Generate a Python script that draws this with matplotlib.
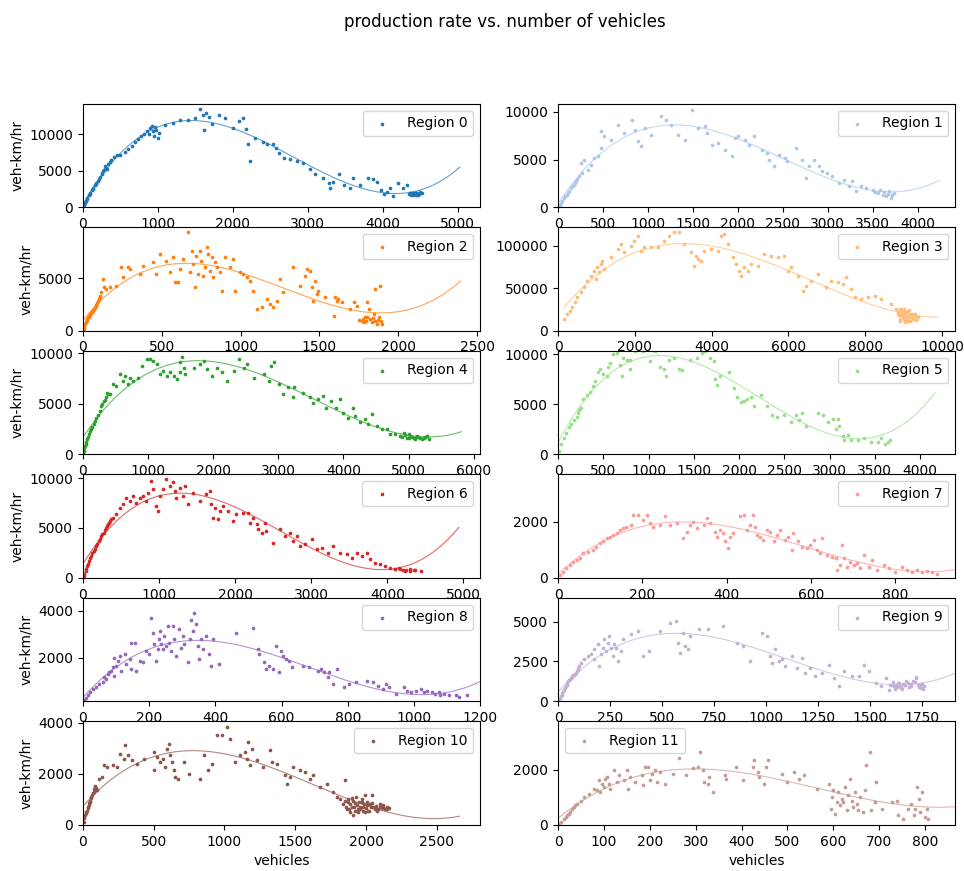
import numpy as np
import matplotlib.pyplot as plt

# (vehicles, veh-km/hr) samples per region
region_0 = [(10, 300), (15, 450), (25, 600), (40, 900), (50, 1100), (60, 1300), (80, 1700), (90, 1850), (100, 2000),
            (120, 2400), (130, 2550), (140, 2700), (160, 3000), (170, 3150), (180, 3300), (200, 3600), (210, 3900),
            (230, 4200), (250, 4500), (260, 4700), (270, 5000), (280, 5100), (290, 5300), (300, 5600), (310, 5400),
            (320, 5200), (340, 5900), (360, 6200), (380, 6500), (420, 6900), (460, 7100), (500, 7200), (560, 7600),
            (600, 8000), (650, 8400), (700, 8900), (740, 9300), (780, 9700), (820, 10000), (850, 10400), (880, 10000),
            (900, 10800), (920, 11200), (940, 10400), (950, 9800), (960, 11000), (980, 10600), (1000, 9500),
            (1010, 10200), (1100, 11300), (1200, 11600), (1300, 11900), (1400, 12000), (1500, 12200), (1560, 13400),
            (1600, 12700), (1640, 12900), (1680, 12400), (1620, 10600), (1720, 11400), (1820, 12700), (1900, 12300),
            (2000, 10900), (2080, 11800), (2140, 12300), (2180, 10700), (2200, 8600), (2230, 6400), (2300, 9500),
            (2400, 9000), (2450, 8600), (2540, 8700), (2580, 8100), (2620, 7400), (2680, 6700), (2760, 6600),
            (2850, 6400), (2940, 6100), (3030, 5200), (3100, 4600), (3200, 4000), (3280, 3300), (3300, 2600),
            (3340, 3500), (3420, 4600), (3480, 3100), (3560, 2700), (3600, 4000), (3700, 3100), (3800, 4000),
            (3870, 3800), (3920, 3500), (3980, 2300), (4020, 1800), (4060, 2100), (4100, 2700), (4140, 1600),
            (4200, 3300), (4270, 2600), (4320, 3100), (4350, 1800), (4360, 1900), (4380, 1700), (4390, 1900),
            (4400, 2000), (4410, 1700), (4420, 1800), (4430, 2000), (4440, 1700), (4450, 1900), (4460, 2000),
            (4470, 1700), (4480, 1800), (4500, 2100), (4530, 2000)]

region_1 = [(10, 150), (22, 280), (35, 450), (48, 630), (67, 980), (80, 1150), (97, 1330), (110, 1500), (123, 1680),
            (142, 2030), (155, 2200), (172, 2380), (185, 2550), (198, 2730), (215, 3000), (235, 3250), (272, 3600),
            (254, 4650), (291, 5000), (328, 3950), (366, 4480), (403, 5170), (440, 5350), (478, 6220), (478, 7970),
            (515, 7450), (590, 7100), (664, 8670), (739, 7800), (821, 9200), (851, 8150), (888, 6920), (925, 6400),
            (963, 8320), (1037, 7620), (1149, 9550), (1205, 9200), (1261, 8670), (1336, 7620), (1410, 7100),
            (1485, 10250), (1560, 8320), (1634, 8500), (1653, 7800), (1709, 6570), (1784, 6750), (1858, 6050),
            (1933, 5350), (1970, 7270), (2007, 7450), (2082, 7100), (2119, 6570), (2175, 7450), (2269, 6050),
            (2325, 5700), (2343, 5000), (2399, 4300), (2455, 5520), (2530, 5170), (2549, 4830), (2642, 6220),
            (2716, 5000), (2754, 3080), (2791, 4300), (2847, 5000), (2903, 4300), (2940, 3780), (2996, 3600),
            (3052, 3250), (3127, 2550), (3183, 2900), (3239, 2200), (3276, 2730), (3313, 1680), (3369, 2200),
            (3425, 2030), (3500, 1850), (3530, 1600), (3556, 1500), (3580, 1800), (3612, 1330), (3630, 1600),
            (3649, 1150), (3670, 1400), (3687, 1680), (3705, 980), (3720, 1300), (3743, 1500)]

region_2 = [(4, 160), (8, 300), (10, 400), (14, 600), (17, 800), (20, 850), (25, 1000), (28, 1100), (32, 1270),
            (36, 1350), (40, 1400), (44, 1500), (47, 1590), (52, 1700), (55, 1750), (60, 1850), (64, 1910), (70, 2100),
            (75, 2200), (81, 2390), (86, 2500), (90, 2600), (95, 2870), (100, 3000), (106, 3190), (110, 3300),
            (117, 3660), (127, 4940), (131, 4140), (144, 3980), (170, 4140), (212, 4300), (244, 6050), (254, 5100),
            (286, 6050), (297, 5890), (360, 5410), (381, 6210), (445, 6530), (466, 5410), (487, 7330), (530, 6690),
            (551, 5570), (572, 7010), (583, 4620), (604, 4620), (614, 5890), (636, 6850), (667, 9400), (678, 5570),
            (689, 7650), (699, 6370), (710, 4140), (720, 7170), (731, 5410), (742, 7650), (752, 6690), (763, 5250),
            (773, 6050), (784, 7960), (795, 7330), (805, 5730), (816, 7010), (826, 5100), (837, 6530), (848, 6050),
            (869, 5570), (880, 3820), (901, 7010), (932, 6050), (954, 6850), (964, 3820), (996, 5570), (1017, 5410),
            (1038, 5100), (1059, 4780), (1081, 3820), (1102, 2070), (1134, 2230), (1165, 3030), (1187, 2550),
            (1208, 2230), (1229, 2870), (1250, 4940), (1271, 3660), (1335, 6050), (1377, 4300), (1409, 5250),
            (1420, 5890), (1441, 5730), (1452, 4140), (1462, 2870), (1473, 4780), (1483, 3500), (1494, 3820),
            (1536, 3190), (1590, 1430), (1600, 3190), (1611, 2870), (1621, 3030), (1643, 2710), (1695, 2070),
            (1717, 2710), (1738, 2390), (1750, 1000), (1770, 960), (1775, 1100), (1780, 800), (1791, 1270),
            (1795, 900), (1801, 2710), (1805, 1300), (1812, 2070), (1823, 1110), (1833, 800), (1840, 1200),
            (1844, 1590), (1854, 960), (1854, 3980), (1865, 640), (1870, 1000), (1876, 1270), (1886, 4300),
            (1890, 900), (1897, 640)]

region_3 = [(157, 13700), (244, 19600), (313, 23500), (374, 27400), (435, 33300), (505, 39200), (592, 45100),
            (679, 51000), (766, 58800), (853, 64700), (940, 70600), (983, 60800), (1027, 74500), (1070, 68600),
            (1114, 78400), (1157, 82300), (1201, 72500), (1375, 86200), (1549, 96000), (1636, 101900), (1723, 92100),
            (1897, 100000), (1984, 105800), (2071, 111700), (2158, 94100), (2245, 98000), (2419, 98000),
            (2593, 98000), (2767, 105800), (2897, 111700), (3028, 115600), (3158, 115600), (3289, 101900),
            (3463, 92100), (3550, 76400), (3593, 88200), (3637, 84300), (3724, 82300), (3811, 94100), (3985, 96000),
            (4159, 94100), (4245, 111700), (4332, 113700), (4419, 101900), (4550, 86200), (4637, 78400),
            (4724, 70600), (4767, 64700), (4854, 74500), (4941, 70600), (5028, 78400), (5202, 76400), (5376, 90200),
            (5550, 88200), (5724, 86200), (5898, 88200), (5985, 70600), (6072, 74500), (6246, 64700), (6377, 47000),
            (6464, 52900), (6594, 58800), (6768, 66600), (6986, 51000), (7117, 58800), (7291, 56800), (7421, 54900),
            (7508, 62700), (7639, 49000), (7726, 39200), (7900, 37200), (8074, 39200), (8248, 41200), (8422, 37200),
            (8683, 31400), (8813, 25500), (8850, 22000), (8857, 19600), (8880, 18000), (8900, 13700), (8900, 25500),
            (8920, 12000), (8944, 21600), (8950, 24000), (8970, 19000), (8987, 15700), (9000, 14000), (9010, 26000),
            (9031, 23500), (9048, 9800), (9050, 21000), (9074, 17600), (9080, 13000), (9100, 22000), (9118, 11800),
            (9130, 16000), (9150, 24000), (9161, 19600), (9180, 12000), (9205, 15700), (9220, 20000), (9250, 14000),
            (9292, 17600), (9300, 20000), (9330, 13000), (9379, 15700)]

region_4 = [(5, 150), (10, 330), (20, 600), (30, 800), (41, 990), (50, 1200), (67, 1490), (80, 1750), (93, 1990),
            (110, 2300), (129, 2480), (145, 2700), (165, 2980), (185, 3300), (206, 3640), (230, 3900), (258, 4300),
            (284, 4800), (300, 5000), (320, 5300), (335, 5400), (351, 5630), (371, 6120), (390, 6000), (412, 5960),
            (464, 6950), (515, 6790), (567, 7940), (619, 7280), (644, 7780), (696, 6950), (722, 7610), (773, 7280),
            (851, 7610), (902, 8770), (979, 9430), (1031, 9430), (1082, 9270), (1134, 8940), (1186, 7940),
            (1237, 8270), (1289, 7780), (1340, 8110), (1392, 7780), (1443, 7450), (1485, 8110), (1495, 9100),
            (1521, 9600), (1547, 8600), (1572, 7940), (1701, 8600), (1804, 8940), (1856, 9270), (1907, 8440),
            (1985, 7780), (2062, 8600), (2139, 8110), (2217, 7280), (2320, 8270), (2397, 9430), (2474, 8600),
            (2526, 8940), (2629, 7610), (2784, 7940), (2861, 7280), (2887, 8770), (2938, 9100), (3016, 6950),
            (3067, 5960), (3144, 6620), (3221, 5630), (3248, 6620), (3377, 6120), (3480, 5630), (3531, 5130),
            (3608, 5460), (3686, 5790), (3737, 4630), (3814, 5300), (3892, 4630), (3943, 5460), (3995, 4140),
            (4072, 3640), (4149, 4630), (4175, 3810), (4253, 3150), (4330, 3480), (4382, 2980), (4433, 3970),
            (4510, 2810), (4588, 2480), (4665, 2480), (4716, 1990), (4794, 1990), (4871, 1820), (4900, 1700),
            (4923, 2150), (4950, 1900), (4974, 1660), (5000, 1600), (5000, 2000), (5026, 1820), (5050, 1750),
            (5077, 1660), (5100, 1600), (5100, 1500), (5129, 1820), (5150, 1700), (5180, 1660), (5200, 1550),
            (5232, 1660), (5250, 1750), (5290, 1820), (5310, 1490)]

region_5 = [(11, 360), (37, 1070), (63, 1610), (93, 2140), (122, 2680), (148, 3030), (174, 3390), (204, 3750),
            (222, 4110), (233, 4460), (252, 4640), (278, 5530), (315, 5890), (352, 6250), (389, 6780), (407, 7320),
            (444, 8210), (463, 8570), (500, 8030), (537, 7850), (555, 8750), (574, 9100), (611, 10000), (648, 10170),
            (685, 8920), (703, 7850), (722, 9640), (759, 9460), (796, 8570), (796, 9460), (851, 10350), (907, 10530),
            (944, 10350), (1018, 9280), (1073, 10350), (1129, 8750), (1166, 8570), (1195, 7850), (1221, 9460),
            (1277, 9640), (1332, 8570), (1369, 8390), (1462, 9460), (1536, 9640), (1591, 10170), (1628, 10350),
            (1684, 9640), (1721, 9280), (1739, 7500), (1758, 6960), (1795, 7850), (1887, 8210), (1943, 6600),
            (1980, 5710), (2017, 5180), (2054, 5350), (2091, 5530), (2128, 5710), (2165, 4820), (2239, 5890),
            (2313, 4820), (2368, 3930), (2424, 3750), (2498, 3930), (2572, 3210), (2627, 3930), (2664, 3390),
            (2701, 4110), (2738, 2860), (2868, 4110), (2923, 3930), (2979, 3210), (3034, 3570), (3071, 2500),
            (3090, 3570), (3108, 2860), (3145, 1790), (3164, 1430), (3201, 1960), (3238, 1430), (3312, 1430),
            (3386, 1610), (3460, 1250), (3534, 1250), (3571, 1610), (3608, 1070), (3645, 1250), (3663, 1430)]

region_6 = [(9, 170), (20, 400), (35, 670), (45, 900), (53, 1170), (65, 1400), (79, 1680), (95, 1950), (110, 2180),
            (125, 2450), (140, 2680), (160, 2900), (175, 3190), (190, 3400), (211, 3690), (225, 3900), (241, 4200),
            (255, 4350), (272, 4530), (285, 4800), (298, 5030), (315, 5200), (329, 5370), (340, 5500), (351, 5700),
            (365, 5900), (395, 6040), (439, 6380), (482, 7050), (526, 7380), (570, 8050), (614, 7720), (658, 8220),
            (702, 7550), (746, 8050), (789, 8220), (833, 7720), (855, 8560), (899, 9730), (921, 8890), (965, 7220),
            (987, 6710), (1009, 8220), (1053, 8890), (1096, 9900), (1140, 9230), (1184, 9570), (1206, 8730),
            (1228, 8050), (1272, 9060), (1316, 8220), (1338, 9230), (1382, 7380), (1447, 8560), (1535, 7720),
            (1623, 8390), (1667, 8730), (1689, 7380), (1711, 6040), (1733, 7050), (1776, 5870), (1798, 6710),
            (1842, 7220), (1908, 6710), (1974, 5700), (2018, 6380), (2105, 6540), (2171, 6540), (2193, 5540),
            (2237, 6040), (2281, 5370), (2303, 4870), (2347, 4530), (2390, 5540), (2412, 4700), (2500, 3520),
            (2588, 4870), (2654, 4200), (2719, 4530), (2763, 3690), (2807, 4200), (2851, 3190), (2917, 3360),
            (3004, 3860), (3070, 2850), (3136, 3020), (3224, 2520), (3289, 3190), (3377, 2520), (3465, 2350),
            (3531, 2010), (3596, 2520), (3662, 2180), (3728, 2520), (3772, 1850), (3838, 1510), (3904, 1340),
            (3969, 1170), (4035, 1010), (4100, 900), (4101, 840), (4150, 950), (4167, 840), (4200, 750), (4233, 670),
            (4250, 800), (4298, 840), (4300, 700), (4350, 800), (4364, 740), (4440, 670)]

region_7 = [(4, 95), (12, 210), (20, 330), (28, 450), (36, 550), (44, 630), (51, 690), (59, 870), (71, 900),
            (83, 990), (91, 1110), (99, 1230), (107, 1310), (115, 1400), (123, 1460), (131, 1520), (139, 1580),
            (147, 1700), (154, 1760), (162, 1820), (174, 1880), (178, 2240), (190, 2240), (202, 2060), (210, 2240),
            (218, 1940), (226, 1820), (242, 1880), (253, 2180), (265, 1880), (281, 1940), (297, 1400), (305, 1640),
            (313, 1880), (321, 2000), (329, 1760), (345, 1880), (353, 2120), (360, 1940), (372, 1640), (376, 1460),
            (384, 1700), (392, 1580), (396, 1290), (404, 1050), (408, 1460), (416, 1580), (432, 2180), (440, 2240),
            (447, 1700), (455, 1880), (463, 2240), (467, 1820), (471, 1520), (479, 1460), (487, 1340), (495, 1700),
            (503, 1640), (511, 1290), (519, 1520), (527, 1700), (539, 1340), (546, 1460), (554, 990), (558, 1580),
            (570, 1290), (578, 1110), (590, 1050), (598, 1170), (606, 1340), (614, 990), (622, 870), (626, 1400),
            (638, 810), (650, 750), (658, 690), (661, 270), (669, 450), (673, 1170), (677, 690), (685, 390),
            (693, 570), (701, 450), (709, 510), (717, 330), (725, 810), (737, 390), (744, 630), (756, 270),
            (772, 450), (784, 330), (800, 210), (816, 390), (828, 270), (840, 210), (851, 270), (863, 210),
            (875, 240), (887, 190), (899, 150)]

region_8 = [(2, 200), (8, 270), (15, 380), (22, 520), (30, 660), (40, 730), (50, 870), (60, 940), (65, 1150),
            (70, 1080), (75, 1300), (80, 1370), (85, 1440), (90, 1580), (95, 1230), (95, 2000), (101, 1650),
            (106, 1860), (111, 2070), (116, 1440), (126, 2140), (131, 1720), (141, 1930), (146, 2630), (146, 1510),
            (156, 2630), (161, 1440), (171, 1860), (181, 1790), (191, 2280), (201, 2140), (206, 3690), (211, 3060),
            (216, 2560), (221, 1860), (226, 2350), (229, 2770), (233, 3130), (236, 2560), (241, 2350), (246, 2920),
            (251, 2490), (256, 3340), (261, 2630), (266, 2280), (271, 3340), (276, 2770), (281, 2070), (291, 3200),
            (296, 2420), (301, 2920), (306, 2560), (317, 1790), (322, 2770), (327, 3620), (332, 3130), (337, 3900),
            (342, 3410), (347, 2490), (352, 1930), (357, 2770), (362, 2350), (372, 2920), (382, 2140), (387, 1650),
            (392, 2770), (412, 1720), (462, 3060), (513, 3270), (528, 2350), (533, 2140), (548, 1790), (553, 1510),
            (563, 1650), (573, 1510), (583, 2490), (593, 1370), (598, 2280), (603, 2070), (613, 1930), (623, 1860),
            (633, 1580), (664, 1650), (684, 1580), (709, 1440), (719, 1510), (729, 1370), (739, 1150), (744, 1370),
            (754, 870), (769, 1510), (790, 730), (805, 870), (825, 940), (859, 1010), (875, 940), (890, 800),
            (905, 660), (915, 870), (925, 730), (945, 450), (970, 730), (980, 590), (990, 520), (1005, 590),
            (1020, 660), (1030, 520), (1040, 590), (1055, 520), (1065, 450), (1075, 520), (1080, 380), (1090, 450),
            (1105, 380), (1126, 380), (1136, 310), (1161, 380)]

region_9 = [(5, 105), (9, 200), (13, 315), (17, 420), (21, 525), (25, 630), (29, 735), (33, 840), (37, 945),
            (41, 1050), (45, 1155), (49, 1260), (53, 1365), (57, 1420), (61, 1470), (65, 1520), (69, 1575),
            (73, 1630), (77, 1680), (81, 1730), (85, 1785), (89, 1900), (94, 1995), (98, 2100), (102, 2205),
            (110, 2415), (126, 2625), (142, 2835), (158, 2940), (174, 3255), (174, 2625), (190, 3570), (198, 2205),
            (206, 2940), (215, 3360), (223, 3885), (231, 3150), (239, 3675), (247, 4095), (255, 3360), (263, 2835),
            (271, 3570), (279, 3360), (287, 2520), (303, 3150), (311, 3885), (352, 4200), (384, 4410), (408, 2835),
            (440, 3150), (489, 4410), (540, 4935), (569, 5040), (577, 3675), (585, 3045), (601, 4305), (610, 3465),
            (626, 3255), (634, 4095), (676, 4515), (724, 4515), (795, 4725), (860, 3675), (892, 3465), (924, 2520),
            (981, 4305), (1005, 4095), (1021, 2835), (1029, 2415), (1045, 3255), (1061, 2520), (1077, 2625),
            (1094, 2205), (1126, 2835), (1150, 2100), (1174, 2730), (1190, 1785), (1214, 2100), (1239, 1575),
            (1271, 1785), (1303, 2310), (1327, 1470), (1352, 945), (1376, 1890), (1416, 1575), (1448, 1575),
            (1473, 2310), (1497, 1890), (1529, 1155), (1553, 945), (1577, 1470), (1594, 735), (1600, 1000),
            (1602, 1050), (1610, 1200), (1618, 945), (1620, 800), (1625, 1050), (1630, 900), (1634, 1155),
            (1640, 1150), (1645, 950), (1650, 840), (1655, 800), (1660, 1100), (1666, 1050), (1670, 1000),
            (1675, 1250), (1682, 1155), (1690, 900), (1698, 945), (1700, 1100), (1710, 1250), (1720, 1200),
            (1723, 1470), (1725, 1550), (1731, 1050), (1735, 900), (1740, 1000), (1747, 840), (1750, 1100),
            (1755, 800), (1763, 945)]

region_10 = [(5, 105), (10, 250), (16, 370), (20, 450), (24, 500), (28, 560), (33, 650), (36, 700), (40, 760),
             (45, 850), (48, 900), (52, 950), (58, 1050), (60, 1100), (64, 1150), (70, 1250), (75, 1280), (78, 1300),
             (80, 1400), (85, 1500), (87, 1480), (90, 1450), (99, 1350), (111, 1800), (134, 1870), (146, 2330),
             (169, 2260), (216, 2330), (240, 2260), (264, 2780), (287, 2590), (299, 3110), (322, 2720), (346, 2520),
             (381, 2390), (428, 2590), (499, 2850), (499, 2130), (522, 2650), (546, 2460), (569, 2590), (581, 2260),
             (593, 2980), (605, 3180), (617, 2720), (628, 2460), (640, 2130), (652, 1870), (675, 1800), (711, 2460),
             (746, 2000), (828, 1800), (852, 2720), (887, 2130), (911, 2390), (946, 3500), (981, 3500), (1017, 3830),
             (1040, 3370), (1075, 2460), (1110, 2720), (1146, 2850), (1157, 2590), (1169, 3240), (1181, 2330),
             (1193, 2980), (1228, 2520), (1275, 2260), (1322, 2910), (1334, 2460), (1369, 2390), (1428, 1930),
             (1440, 1610), (1463, 1870), (1487, 2260), (1534, 2130), (1569, 2070), (1604, 1800), (1628, 1930),
             (1675, 1480), (1722, 1610), (1769, 1280), (1793, 1080), (1817, 1020), (1840, 820), (1850, 950),
             (1852, 1740), (1860, 700), (1863, 630), (1870, 1000), (1875, 890), (1880, 600), (1887, 500), (1890, 800),
             (1899, 690), (1900, 1050), (1905, 400), (1910, 950), (1915, 700), (1922, 560), (1925, 850), (1930, 1100),
             (1934, 760), (1940, 600), (1946, 500), (1950, 900), (1957, 630), (1960, 700), (1969, 890), (1970, 1000),
             (1975, 550), (1981, 690), (1985, 800), (1993, 500), (1995, 1150), (2000, 650), (2005, 760), (2010, 900),
             (2016, 560), (2020, 550), (2028, 820), (2035, 700), (2040, 1150), (2045, 850), (2052, 690), (2060, 600),
             (2070, 750), (2075, 560), (2085, 600), (2095, 800), (2099, 690), (2110, 650), (2120, 700), (2122, 760),
             (2135, 600), (2146, 630), (2150, 700), (2160, 650)]

region_11 = [(2, 40), (7, 120), (12, 220), (17, 280), (20, 360), (24, 400), (27, 480), (31, 580), (35, 640),
             (38, 700), (42, 760), (49, 880), (56, 1010), (67, 1130), (78, 1310), (85, 1250), (89, 1610), (92, 1190),
             (96, 1490), (100, 1370), (103, 1670), (107, 1730), (110, 1490), (114, 1310), (121, 1980), (129, 1550),
             (132, 1790), (143, 1610), (150, 1980), (153, 1310), (157, 1730), (168, 1550), (183, 1790), (186, 1430),
             (190, 2100), (197, 2100), (201, 1610), (204, 1850), (212, 1980), (215, 1550), (222, 1910), (233, 1490),
             (251, 1850), (264, 2400), (280, 1790), (294, 2040), (305, 2100), (309, 2640), (316, 1980), (319, 1550),
             (327, 1490), (330, 1730), (338, 1190), (363, 1790), (367, 1670), (388, 2100), (403, 1610), (424, 2100),
             (428, 2340), (436, 1910), (439, 1730), (450, 1490), (453, 2100), (457, 2340), (489, 1850), (500, 1550),
             (515, 1910), (526, 1670), (537, 1790), (565, 1310), (591, 1490), (594, 580), (597, 1010), (600, 1250),
             (604, 400), (607, 820), (611, 1190), (614, 700), (618, 950), (621, 820), (625, 1370), (629, 520),
             (632, 1070), (636, 1670), (640, 880), (643, 640), (647, 1190), (651, 760), (654, 520), (658, 1010),
             (665, 460), (669, 1250), (672, 2160), (679, 2640), (683, 520), (690, 820), (694, 1550), (706, 580),
             (728, 820), (739, 880), (742, 340), (751, 220), (762, 580), (769, 760), (775, 340), (779, 580),
             (783, 1370), (786, 950), (790, 460), (793, 1190), (800, 280), (804, 580), (807, 220)]

regions = [region_0, region_1, region_2, region_3, region_4, region_5,
           region_6, region_7, region_8, region_9, region_10, region_11]

# axis ranges
x_max = [5300, 4420, 2520, 10350, 6100, 4390, 5220, 942, 1200, 1912, 2806, 866]
y_range = [(0, 14200), (0, 10870), (0, 9875), (0, 121800), (0, 10268), (0, 10355),
           (0, 10400), (0, 3680), (130, 4550), (0, 6500), (0, 4050), (0, 3745)]
legend_loc = ['upper right'] * 11 + ['upper left']

colors = plt.cm.tab20.colors

fig, axes = plt.subplots(6, 2, figsize=(9.64, 8.71), dpi=100)
fig.subplots_adjust(left=0.086, right=0.991, top=0.881, bottom=0.053, wspace=0.196, hspace=0.193)
fig.suptitle('production rate vs. number of vehicles', x=0.524, y=0.985)

for i, (ax, pts) in enumerate(zip(axes.flat, regions)):
    x, y = np.array(pts, dtype=float).T
    ax.scatter(x, y, s=7, linewidths=0, color=colors[i], label=f'Region {i}')

    # cubic fit, drawn a bit past the last sample
    coef = np.polyfit(x, y, 3)
    xs = np.linspace(x.min(), x.max() + 500, 300)
    ax.plot(xs, np.polyval(coef, xs), color=colors[i], lw=0.8, alpha=0.7)

    ax.set_xlim(0, x_max[i])
    ax.set_ylim(*y_range[i])
    ax.legend(loc=legend_loc[i])
    if i % 2 == 0:
        ax.set_ylabel('veh-km/hr')
    if i >= 10:
        ax.set_xlabel('vehicles')

fig.savefig('out.png')
